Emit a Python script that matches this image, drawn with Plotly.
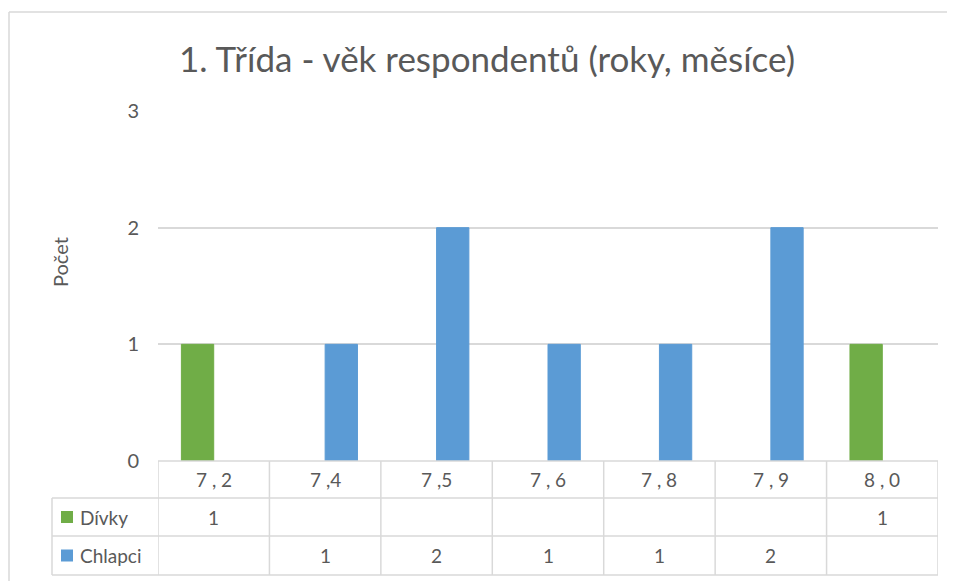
import plotly.graph_objects as go

categories = ["7 , 2", "7 ,4", "7 ,5", "7 , 6", "7 , 8", "7 , 9", "8 , 0"]
divky = [1, None, None, None, None, None, 1]
chlapci = [None, 1, 2, 1, 1, 2, None]
series_names = ["Dívky", "Chlapci"]
series_colors = ["#70AD47", "#5B9BD5"]
title_text = "1. Třída - věk respondentů (roky, měsíce)"
y_title = "Počet"
y_ticks = [0, 1, 2, 3]

W, H = 955, 581
OFF = 8  # page body margin
FONT = "Lato"
TXT = "#595959"
GRID = "#D9D9D9"

def px(y):
    return 1 - (y - OFF) / H

def pxx(x):
    return (x - OFF) / W

fig = go.Figure()
for name, vals, col in zip(series_names, [divky, chlapci], series_colors):
    fig.add_trace(go.Bar(x=categories, y=vals, name=name,
                         marker=dict(color=col, line=dict(width=1, color=col))))

plot_l, plot_r = 158, 938
row_tops = [461, 498, 536, 575]
label_l = 52
LW = 1.5

shapes = []
shapes.append(dict(type="line", xref="paper", yref="paper", x0=pxx(9), x1=pxx(9), y0=px(12), y1=0, line=dict(color=GRID, width=LW)))
shapes.append(dict(type="line", xref="paper", yref="paper", x0=pxx(9), x1=1, y0=px(12), y1=px(12), line=dict(color=GRID, width=LW)))
shapes.append(dict(type="line", xref="paper", yref="paper", x0=pxx(plot_l), x1=pxx(plot_r), y0=px(row_tops[0]), y1=px(row_tops[0]), line=dict(color=GRID, width=LW)))
for yy in row_tops[1:]:
    shapes.append(dict(type="line", xref="paper", yref="paper", x0=pxx(label_l), x1=pxx(plot_r), y0=px(yy), y1=px(yy), line=dict(color=GRID, width=LW)))
for i in range(len(categories) + 1):
    shapes.append(dict(type="line", xref="x", yref="paper", x0=i - 0.5, x1=i - 0.5, y0=px(row_tops[0]), y1=px(row_tops[-1]), line=dict(color=GRID, width=LW)))
shapes.append(dict(type="line", xref="paper", yref="paper", x0=pxx(label_l), x1=pxx(label_l), y0=px(row_tops[1]), y1=px(row_tops[-1]), line=dict(color=GRID, width=LW)))

annotations = []
for r, (name, col) in enumerate(zip(series_names, series_colors)):
    yc = (row_tops[r + 1] + row_tops[r + 2]) / 2
    shapes.append(dict(type="rect", xref="paper", yref="paper", x0=pxx(61), x1=pxx(73), y0=px(yc - 6), y1=px(yc + 6), fillcolor=col, line=dict(width=0)))
    annotations.append(dict(text=name, xref="paper", yref="paper", x=pxx(78), y=px(yc), xanchor="left", yanchor="middle", showarrow=False, font=dict(family=FONT, size=19, color=TXT)))
    vals = [divky, chlapci][r]
    for c, v in zip(categories, vals):
        if v is not None:
            annotations.append(dict(text=str(v), xref="x", yref="paper", x=c, y=px(yc), xanchor="center", yanchor="middle", showarrow=False, font=dict(family=FONT, size=19, color=TXT)))
hc = (row_tops[0] + row_tops[1]) / 2
for c in categories:
    annotations.append(dict(text=c, xref="x", yref="paper", x=c, y=px(hc), xanchor="center", yanchor="middle", showarrow=False, font=dict(family=FONT, size=19, color=TXT)))
annotations.append(dict(text=y_title, xref="paper", yref="paper", x=pxx(60), y=px(262), textangle=-90, xanchor="center", yanchor="middle", showarrow=False, font=dict(family=FONT, size=20, color=TXT)))
annotations.append(dict(text=title_text, xref="paper", yref="paper", x=pxx(487), y=px(58), xanchor="center", yanchor="middle", showarrow=False, font=dict(family=FONT, size=35, color=TXT)))

fig.update_layout(
    width=W, height=H,
    margin=dict(l=0, r=0, t=0, b=0, autoexpand=False),
    paper_bgcolor="white", plot_bgcolor="white",
    barmode="group", bargap=0.42, bargroupgap=0,
    showlegend=False,
    shapes=shapes, annotations=annotations,
    xaxis=dict(domain=[pxx(plot_l), pxx(plot_r)], range=[-0.5, len(categories) - 0.5], showticklabels=False,
               showgrid=False, zeroline=False, showline=False, ticks="", automargin=False),
    yaxis=dict(domain=[px(461), px(111)], range=[0, 3], tickvals=y_ticks, showgrid=True, gridcolor=GRID, gridwidth=LW,
               zeroline=False, showline=False, ticks="", ticklabelstandoff=18, automargin=False,
               tickfont=dict(family=FONT, size=20, color=TXT)),
    font=dict(family=FONT, color=TXT),
)

fig.write_html("out.html")
